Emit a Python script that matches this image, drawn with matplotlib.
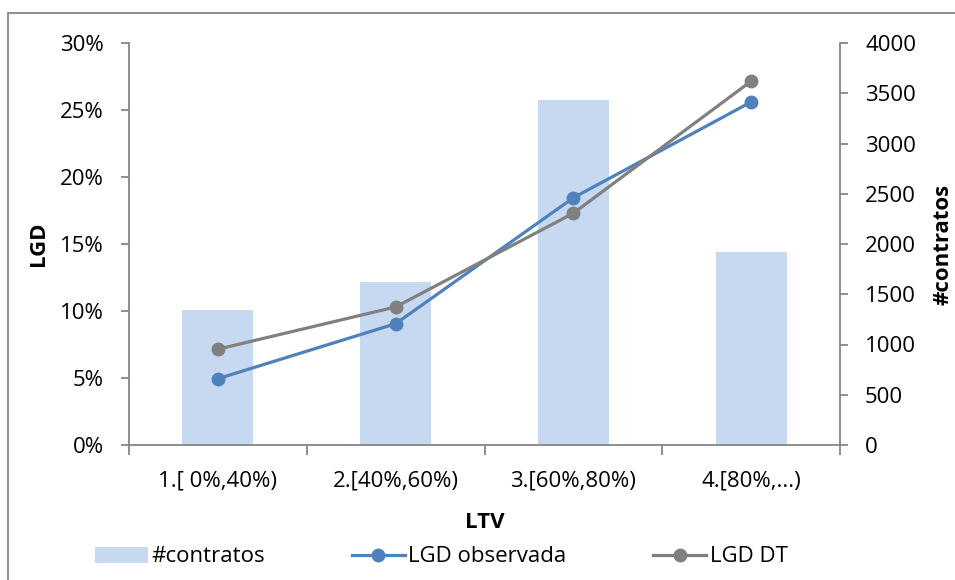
import matplotlib.pyplot as plt
from matplotlib.patches import Rectangle
from matplotlib.ticker import FixedLocator, FuncFormatter
import numpy as np

plt.rcParams['font.family'] = ['Open Sans', 'DejaVu Sans']

categories = ['1.[ 0%,40%)', '2.[40%,60%)', '3.[60%,80%)', '4.[80%,...)']
contratos = [1340, 1620, 3435, 1920]
lgd_observada = [4.95, 9.05, 18.45, 25.6]
lgd_dt = [7.15, 10.3, 17.3, 27.15]

grey = '#868686'
fs = 16
x = np.arange(len(categories))

fig = plt.figure(figsize=(9.55, 5.8), dpi=100)
ax = fig.add_axes([129 / 955, 1 - 445 / 580, 711 / 955, 402 / 580])
ax2 = ax.twinx()

# bars on the secondary axis, drawn behind the lines
ax2.bar(x, contratos, width=0.4, color='#c6d9f0', label='#contratos', zorder=1)
ax2.set_ylim(0, 4000)
ax2.set_yticks(range(0, 4001, 500))

ax.set_zorder(ax2.get_zorder() + 1)
ax.patch.set_visible(False)
l1, = ax.plot(x, lgd_observada, color='#4f81bd', lw=2.3, marker='o', ms=9, label='LGD observada')
l2, = ax.plot(x, lgd_dt, color='#808080', lw=2.3, marker='o', ms=9, label='LGD DT')
ax.set_ylim(0, 30)
ax.set_xlim(-0.5, 3.5)
ax.set_yticks(range(0, 31, 5))
ax.yaxis.set_major_formatter(FuncFormatter(lambda v, p: f'{v:.0f}%'))

ax.set_xticks(x)
ax.set_xticklabels(categories)
ax.xaxis.set_minor_locator(FixedLocator(np.arange(-0.5, 4, 1)))
ax.tick_params(axis='x', which='major', length=0, pad=18, labelsize=fs)
ax.tick_params(axis='x', which='minor', length=7.5, width=1.3, color=grey, direction='out')
ax.tick_params(axis='y', length=6, width=1.3, color=grey, labelsize=fs, pad=12)
ax2.tick_params(axis='y', length=6, width=1.3, color=grey, labelsize=fs, pad=12)

for a in (ax, ax2):
    for s in a.spines.values():
        s.set_visible(False)
ax.spines['left'].set_visible(True)
ax.spines['bottom'].set_visible(True)
ax2.spines['right'].set_visible(True)
for s in (ax.spines['left'], ax.spines['bottom'], ax2.spines['right']):
    s.set_color(grey)
    s.set_linewidth(1.3)

ax.set_xlabel('LTV', fontsize=fs, fontweight='bold', labelpad=15)
ax.set_ylabel('LGD', fontsize=fs, fontweight='bold', labelpad=8)
ax2.set_ylabel('#contratos', fontsize=fs, fontweight='bold', labelpad=12)

bar_handle = ax2.containers[0]
fig.legend([bar_handle, l1, l2], ['#contratos', 'LGD observada', 'LGD DT'],
           loc='center', bbox_to_anchor=(0.462, 1 - 557 / 580), ncol=3, frameon=False,
           fontsize=fs, columnspacing=3.9, handlelength=2.4, handletextpad=0.15)

# chart frame
fig.patches.append(Rectangle((8 / 955, -0.05), 1.1, 1 - 13 / 580 + 0.05,
                             transform=fig.transFigure, fill=False,
                             edgecolor=grey, lw=1.3))

fig.savefig('out.png', dpi=100)
